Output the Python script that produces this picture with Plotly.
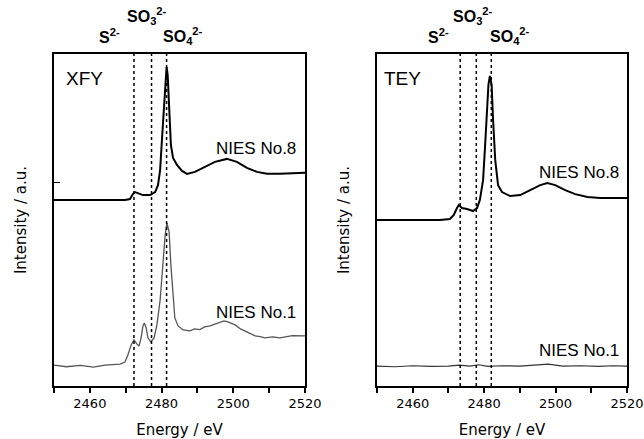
import plotly.graph_objects as go

# ---------------- data (energy in eV, intensity in a.u.) ----------------
# XFY panel, NIES No.8
xfy8_e = [2450.0, 2469.8, 2471.2, 2472.0, 2472.6, 2473.4, 2474.8, 2476.8, 2478.2, 2479.0,
          2479.6, 2480.1, 2480.7, 2481.1, 2481.4, 2481.7, 2482.1, 2482.6, 2483.2, 2484.3,
          2485.7, 2487.1, 2489.3, 2492.1, 2494.9, 2498.2, 2501.0, 2503.8, 2506.6, 2509.4,
          2513.0, 2520.0]
xfy8_i = [5.60, 5.60, 5.63, 5.78, 5.84, 5.81, 5.75, 5.75, 5.84, 6.05,
          6.51, 7.41, 8.61, 9.37, 9.61, 9.37, 8.31, 7.26, 6.87, 6.66,
          6.48, 6.39, 6.45, 6.60, 6.75, 6.84, 6.75, 6.57, 6.45, 6.39,
          6.39, 6.42]

# XFY panel, NIES No.1
xfy1_e = [2450.0, 2453.5, 2457.3, 2461.0, 2464.2, 2468.4, 2469.8, 2470.6, 2471.5, 2472.3,
          2473.1, 2473.7, 2474.3, 2474.8, 2475.2, 2475.7, 2476.2, 2477.0, 2477.9, 2478.7,
          2479.6, 2480.4, 2481.0, 2481.5, 2482.1, 2482.6, 2483.2, 2483.7, 2484.6, 2486.0,
          2487.9, 2489.2, 2490.7, 2492.0, 2493.5, 2495.0, 2496.3, 2497.4, 2498.5, 2499.6,
          2500.5, 2502.0, 2503.3, 2504.6, 2506.1, 2507.5, 2508.8, 2511.0, 2513.0, 2516.5,
          2520.0]
xfy1_i = [0.63, 0.58, 0.62, 0.57, 0.63, 0.66, 0.72, 0.93, 1.23, 1.39,
          1.27, 1.20, 1.45, 1.81, 1.90, 1.75, 1.45, 1.33, 1.45, 1.84,
          2.59, 3.80, 4.55, 4.91, 4.64, 3.64, 2.59, 2.05, 1.81, 1.69,
          1.66, 1.72, 1.70, 1.78, 1.81, 1.86, 1.90, 1.96, 1.93, 1.89,
          1.84, 1.72, 1.66, 1.60, 1.51, 1.49, 1.45, 1.48, 1.45, 1.52,
          1.51]

# TEY panel, NIES No.8
tey8_e = [2450.0, 2467.6, 2470.4, 2471.5, 2472.4, 2472.9, 2473.8, 2475.2, 2476.9, 2478.0,
          2478.8, 2479.7, 2480.2, 2480.8, 2481.2, 2481.6, 2482.1, 2482.5, 2483.1, 2483.9,
          2485.0, 2487.3, 2490.1, 2492.9, 2495.7, 2497.7, 2499.9, 2502.7, 2505.5, 2508.9,
          2512.5, 2520.0]
tey8_i = [5.00, 5.00, 5.03, 5.15, 5.36, 5.45, 5.36, 5.33, 5.27, 5.36,
          5.60, 6.20, 7.11, 8.31, 9.07, 9.34, 9.07, 8.01, 6.81, 6.05,
          5.84, 5.72, 5.75, 5.90, 6.05, 6.11, 6.05, 5.90, 5.78, 5.69,
          5.66, 5.66]

# TEY panel, NIES No.1
tey1_e = [2450.0, 2455.0, 2460.0, 2465.0, 2470.0, 2473.0, 2476.0, 2478.5, 2481.0, 2485.0,
          2490.0, 2494.0, 2498.0, 2502.0, 2507.0, 2512.0, 2516.0, 2520.0]
tey1_i = [0.60, 0.58, 0.61, 0.59, 0.60, 0.63, 0.60, 0.64, 0.59, 0.61,
          0.60, 0.62, 0.66, 0.60, 0.61, 0.59, 0.61, 0.60]

# reference energies of the species (dotted lines)
xfy_ref_e = [2472.3, 2477.2, 2481.4]
tey_ref_e = [2473.3, 2477.8, 2482.0]
species = ["<b>S<sup>2-</sup></b>", "<b>SO<sub>3</sub><sup>2-</sup></b>", "<b>SO<sub>4</sub><sup>2-</sup></b>"]
xfy_species_x = [2465.6, 2475.9, 2486.0]
tey_species_x = [2467.3, 2476.9, 2487.3]

tick_vals = [2450, 2460, 2470, 2480, 2490, 2500, 2510, 2520]
tick_text = ["", "2460", "", "2480", "", "2500", "", "2520"]
xfy_ytick = [6.14]
tey_ytick = [5.03]

# ---------------- figure ----------------
W, H = 644, 439
fig = go.Figure()
fig.add_trace(go.Scatter(x=xfy8_e, y=xfy8_i, mode="lines", line=dict(color="black", width=2),
                         xaxis="x", yaxis="y", showlegend=False))
fig.add_trace(go.Scatter(x=xfy1_e, y=xfy1_i, mode="lines", line=dict(color="#555555", width=1.3),
                         xaxis="x", yaxis="y", showlegend=False))
fig.add_trace(go.Scatter(x=tey8_e, y=tey8_i, mode="lines", line=dict(color="black", width=2),
                         xaxis="x2", yaxis="y2", showlegend=False))
fig.add_trace(go.Scatter(x=tey1_e, y=tey1_i, mode="lines", line=dict(color="#333333", width=1.2),
                         xaxis="x2", yaxis="y2", showlegend=False))

def px_x(p):
    return p / W

def px_y(p):
    return 1 - p / H

tickfont = dict(family="DejaVu Sans", size=13, color="black")
titlefont = dict(family="DejaVu Sans", size=15, color="black")

xcommon = dict(range=[2450, 2520], tickvals=tick_vals, ticktext=tick_text, ticks="outside",
               ticklen=5, tickwidth=1.5, tickcolor="black", showline=True, linecolor="black",
               linewidth=1.5, mirror=True, showgrid=False, zeroline=False, tickfont=tickfont,
               automargin=False,
               title=dict(text="Energy / eV", font=titlefont, standoff=14))
ycommon = dict(range=[0, 10], showticklabels=False, ticks="inside", ticklen=6, tickwidth=1,
               tickcolor="black", showline=True, linecolor="black", linewidth=1.5, mirror=True,
               showgrid=False, zeroline=False, automargin=False,
               title=dict(text="Intensity / a.u.", font=titlefont, standoff=22))

fig.update_layout(
    template="none",
    width=W, height=H, margin=dict(l=0, r=0, t=0, b=0, autoexpand=False),
    paper_bgcolor="white", plot_bgcolor="white",
    xaxis=dict(domain=[px_x(54), px_x(305)], anchor="y", **xcommon),
    yaxis=dict(domain=[px_y(386), px_y(54)], anchor="x", tickvals=xfy_ytick, **ycommon),
    xaxis2=dict(domain=[px_x(377), px_x(627)], anchor="y2", **xcommon),
    yaxis2=dict(domain=[px_y(386), px_y(54)], anchor="x2", tickvals=tey_ytick, **ycommon),
)

shapes = []
for e in xfy_ref_e:
    shapes.append(dict(type="line", xref="x", yref="y domain", x0=e, x1=e, y0=0, y1=1,
                       line=dict(color="black", width=1.5, dash="dot")))
for e in tey_ref_e:
    shapes.append(dict(type="line", xref="x2", yref="y2 domain", x0=e, x1=e, y0=0, y1=1,
                       line=dict(color="black", width=1.5, dash="dot")))
fig.update_layout(shapes=shapes)

ann = []
sp_font = dict(family="Liberation Sans", size=16, color="black")
sp_y = [px_y(36), px_y(16), px_y(36)]
for xs, xref in ((xfy_species_x, "x"), (tey_species_x, "x2")):
    for s, x, y in zip(species, xs, sp_y):
        ann.append(dict(text=s, x=x, y=y, xref=xref, yref="paper", showarrow=False,
                        font=sp_font, xanchor="center", yanchor="middle"))

big = dict(family="Liberation Sans", size=19, color="black")
lab = dict(family="Liberation Sans", size=17, color="black")
ann.append(dict(text="XFY", x=px_x(64), y=px_y(79), xref="paper", yref="paper", showarrow=False,
                font=big, xanchor="left", yanchor="middle"))
ann.append(dict(text="TEY", x=px_x(382), y=px_y(79), xref="paper", yref="paper", showarrow=False,
                font=big, xanchor="left", yanchor="middle"))
ann.append(dict(text="NIES No.8", x=px_x(298), y=px_y(148), xref="paper", yref="paper",
                showarrow=False, font=lab, xanchor="right", yanchor="middle"))
ann.append(dict(text="NIES No.1", x=px_x(298), y=px_y(312), xref="paper", yref="paper",
                showarrow=False, font=lab, xanchor="right", yanchor="middle"))
ann.append(dict(text="NIES No.8", x=px_x(621), y=px_y(173), xref="paper", yref="paper",
                showarrow=False, font=lab, xanchor="right", yanchor="middle"))
ann.append(dict(text="NIES No.1", x=px_x(621), y=px_y(350), xref="paper", yref="paper",
                showarrow=False, font=lab, xanchor="right", yanchor="middle"))
fig.update_layout(annotations=ann)

fig.write_html("out.html")
